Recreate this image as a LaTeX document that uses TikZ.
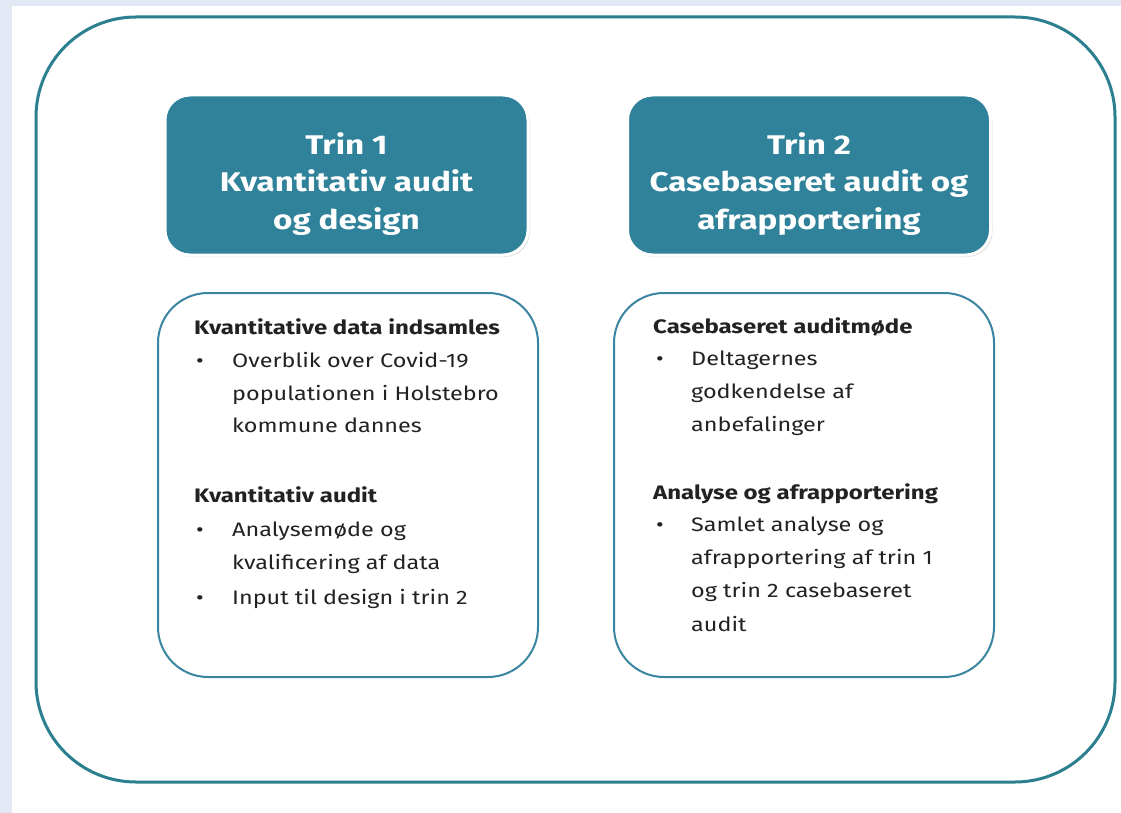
\documentclass[tikz,border=0pt]{standalone}
\usepackage{fontspec}
\setmainfont[FakeStretch=1.2, BoldFeatures={FakeStretch=1.23}]{Fira Sans}
\usetikzlibrary{shadows}
\definecolor{bgblue}{HTML}{E3E9F4}
\definecolor{outerc}{HTML}{2B7F8E}
\definecolor{trinfill}{HTML}{2F8299}
\definecolor{boxline}{HTML}{3A86A0}
\definecolor{txt}{HTML}{222222}
\tikzset{
  outerbox/.style={draw=outerc, line width=3pt, rounded corners=100pt},
  trinbox/.style={fill=trinfill, draw=white, line width=3pt, rounded corners=25pt,
    minimum width=363pt, minimum height=160pt,
    drop shadow={opacity=0.22, shadow xshift=2pt, shadow yshift=-2pt}},
  trintext/.style={align=center, text=white, inner sep=0pt,
    font=\fontsize{27}{37.5}\selectfont\bfseries},
  contentbox/.style={draw=boxline, line width=2pt, rounded corners=50pt,
    minimum width=380pt, minimum height=384pt},
  hd/.style={anchor=base west, inner sep=0pt, text=txt, font=\fontsize{19.5}{24}\selectfont\bfseries},
  tx/.style={anchor=base west, inner sep=0pt, text=txt, font=\fontsize{19.5}{24}\selectfont},
  bul/.style={anchor=base west, inner sep=0pt, text=txt, font=\fontsize{19.5}{24}\selectfont}
}
\begin{document}
\begin{tikzpicture}[x=1pt,y=-1pt]
\fill[bgblue] (0,0) rectangle (1121,813);
\fill[white] (12,6) rectangle (1121,813);
\useasboundingbox (0,0) rectangle (1121,813);
\draw[outerbox] (36,17) rectangle (1115,782);

\node[trinbox] (t1) at (346.5,175) {};
\node[trinbox] (t2) at (809,175) {};
\node[trintext, yshift=-9pt] (t1txt) at (t1.center) {Trin 1\\Kvantitativ audit\\og design};
\node[trintext, yshift=-9pt] (t2txt) at (t2.center) {Trin 2\\Casebaseret audit og\\afrapportering};

\node[contentbox] (c1) at (348,485) {};
\node[contentbox] (c2) at (804,485) {};

% left content
\node[hd] (l1) at (194,334) {Kvantitative data indsamles};
\node[bul] (lb1) at (196,367) {•};
\node[tx] (l2) at (232,367) {Overblik over Covid-19};
\node[tx] (l3) at (232,400) {populationen i Holstebro};
\node[tx] (l4) at (232,432) {kommune dannes};
\node[hd] (l5) at (194,502) {Kvantitativ audit};
\node[bul] (lb2) at (196,536) {•};
\node[tx] (l6) at (232,536) {Analysemøde og};
\node[tx] (l7) at (232,569) {kvalificering af data};
\node[bul] (lb3) at (196,604) {•};
\node[tx] (l8) at (232,604) {Input til design i trin 2};

% right content
\node[hd] (r1) at (653,333) {Casebaseret auditmøde};
\node[bul] (rb1) at (656,365) {•};
\node[tx] (r2) at (691,365) {Deltagernes};
\node[tx] (r3) at (691,398) {godkendelse af};
\node[tx] (r4) at (691,431) {anbefalinger};
\node[hd] (r5) at (653,499) {Analyse og afrapportering};
\node[bul] (rb2) at (656,531) {•};
\node[tx] (r6) at (691,531) {Samlet analyse og};
\node[tx] (r7) at (691,564) {afrapportering af trin 1};
\node[tx] (r8) at (691,597) {og trin 2 casebaseret};
\node[tx] (r9) at (691,631) {audit};
\end{tikzpicture}
\end{document}
